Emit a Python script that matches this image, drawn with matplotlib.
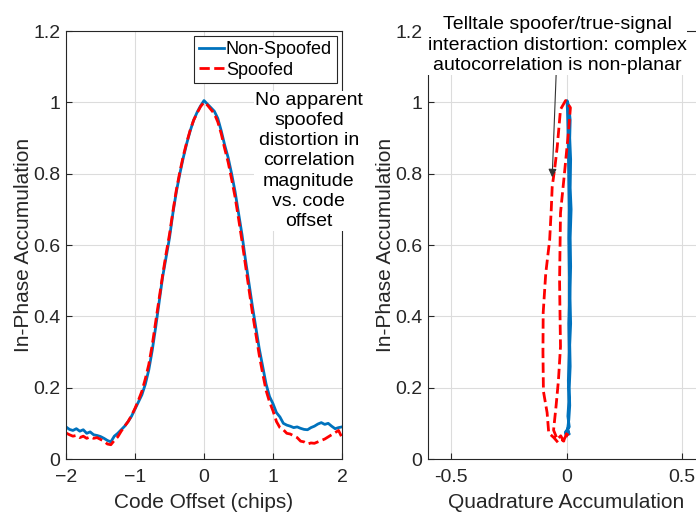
import matplotlib
matplotlib.use("Agg")
import matplotlib.pyplot as plt
import numpy as np

plt.rcParams['font.family'] = ['Liberation Sans', 'DejaVu Sans']

# left panel: correlation magnitude vs code offset
code_offset = np.round(np.arange(-2.0, 2.0001, 0.05), 2)
nonspoofed = [0.090, 0.083, 0.080, 0.085, 0.078, 0.082, 0.072, 0.076, 0.068, 0.066,
              0.063, 0.058, 0.052, 0.048, 0.064, 0.072, 0.082, 0.092, 0.105, 0.120,
              0.140, 0.160, 0.180, 0.210, 0.250, 0.305, 0.370, 0.440, 0.510, 0.565,
              0.620, 0.690, 0.750, 0.800, 0.845, 0.885, 0.920, 0.950, 0.972, 0.990,
              1.005, 0.995, 0.985, 0.975, 0.955, 0.920, 0.880, 0.845, 0.800, 0.750,
              0.690, 0.630, 0.560, 0.495, 0.430, 0.370, 0.310, 0.260, 0.210, 0.175,
              0.155, 0.130, 0.118, 0.100, 0.095, 0.092, 0.088, 0.090, 0.086, 0.083,
              0.082, 0.088, 0.092, 0.098, 0.102, 0.097, 0.100, 0.092, 0.085, 0.088,
              0.090]
spoofed = [0.073, 0.068, 0.064, 0.066, 0.060, 0.064, 0.058, 0.062, 0.058, 0.060,
           0.055, 0.050, 0.042, 0.040, 0.052, 0.062, 0.078, 0.092, 0.105, 0.122,
           0.142, 0.165, 0.190, 0.225, 0.265, 0.320, 0.385, 0.450, 0.515, 0.575,
           0.630, 0.695, 0.755, 0.805, 0.850, 0.888, 0.922, 0.950, 0.970, 0.988,
           1.000, 0.992, 0.980, 0.968, 0.945, 0.912, 0.870, 0.832, 0.785, 0.735,
           0.675, 0.612, 0.545, 0.478, 0.412, 0.352, 0.292, 0.240, 0.192, 0.160,
           0.135, 0.105, 0.088, 0.082, 0.072, 0.070, 0.065, 0.060, 0.050, 0.048,
           0.042, 0.045, 0.044, 0.048, 0.052, 0.056, 0.062, 0.068, 0.074, 0.080,
           0.060]

# right panel: complex correlation (quadrature vs in-phase)
blue_q = [0.000, 0.008, -0.005, 0.012, 0.006, 0.010, 0.008, 0.012, 0.010, 0.014,
          0.012, 0.010, 0.012, 0.010, 0.008, 0.006, 0.004, 0.002,
          0.010, 0.016, 0.014, 0.018, 0.016, 0.020, 0.016, 0.018, 0.015, 0.018,
          0.014, 0.016, 0.012, 0.014, 0.010, 0.004, 0.012, -0.004, 0.006]
blue_i = [0.065, 0.080, 0.075, 0.090, 0.120, 0.160, 0.220, 0.300, 0.380, 0.460,
          0.540, 0.620, 0.700, 0.780, 0.860, 0.930, 0.980, 1.005,
          0.990, 0.950, 0.900, 0.840, 0.760, 0.700, 0.620, 0.540, 0.460, 0.380,
          0.320, 0.260, 0.200, 0.150, 0.110, 0.080, 0.070, 0.070, 0.085]
red_q = [0.003, -0.010, -0.035, -0.055, -0.077, -0.084, -0.100, -0.102, -0.101,
         -0.090, -0.073, -0.066, -0.062, -0.050, -0.040, -0.026, -0.004,
         0.017, 0.009, -0.009, -0.026, -0.030, -0.028, -0.026, -0.035, -0.045,
         -0.056, -0.040, -0.025, -0.012, 0.000, 0.008]
red_i = [0.073, 0.055, 0.045, 0.060, 0.073, 0.130, 0.190, 0.300, 0.410,
         0.520, 0.614, 0.700, 0.763, 0.820, 0.876, 0.980, 1.005,
         0.985, 0.920, 0.800, 0.690, 0.500, 0.400, 0.315, 0.220, 0.150,
         0.081, 0.055, 0.065, 0.050, 0.070, 0.065]

blue = '#0072BD'
red = '#FF0000'
spine_col = '#262626'

fig = plt.figure(figsize=(6.96, 5.14), dpi=100)
ax1 = fig.add_axes([66 / 696, 55 / 514, 276 / 696, 428 / 514])
ax2 = fig.add_axes([428 / 696, 55 / 514, 277 / 696, 428 / 514])

for ax in (ax1, ax2):
    ax.grid(True, color='#dcdcdc', lw=0.8)
    ax.set_axisbelow(True)
    ax.tick_params(direction='in', labelsize=14, colors=spine_col, length=4)
    ax.tick_params(axis='x', pad=7)
    ax.tick_params(axis='y', pad=4)
    for s in ax.spines.values():
        s.set_color(spine_col)
        s.set_linewidth(0.8)
    ax.set_ylim(0, 1.2)
    ax.set_yticks([0, 0.2, 0.4, 0.6, 0.8, 1.0, 1.2])
    ax.set_yticklabels(['0', '0.2', '0.4', '0.6', '0.8', '1', '1.2'])
    ax.set_ylabel('In-Phase Accumulation', fontsize=15, color=spine_col, labelpad=0)

ax1.plot(code_offset, nonspoofed, color=blue, lw=2, label='Non-Spoofed')
ax1.plot(code_offset, spoofed, color=red, lw=2, ls='--', label='Spoofed')
ax1.set_xlim(-2, 2)
ax1.set_xticks([-2, -1, 0, 1, 2])
ax1.set_xlabel('Code Offset (chips)', fontsize=15, color=spine_col, labelpad=5)
leg = ax1.legend(loc='upper right', fontsize=13, fancybox=False, framealpha=1,
                 edgecolor=spine_col, handlelength=1.4, handletextpad=0.1,
                 borderpad=0.25, labelspacing=0.2, borderaxespad=0.3)
leg.get_frame().set_linewidth(0.8)
ax1.text(1.52, 1.03, 'No apparent\nspoofed\ndistortion in\ncorrelation\nmagnitude\nvs. code\noffset',
         ha='center', va='top', fontsize=14, linespacing=1.25,
         bbox=dict(facecolor='white', edgecolor='none', pad=0.5))

ax2.plot(blue_q, blue_i, color=blue, lw=2)
ax2.plot(red_q, red_i, color=red, lw=2, ls='--')
ax2.set_xlim(-0.6, 0.6)
ax2.set_xticks([-0.5, 0, 0.5])
ax2.set_xticklabels(['-0.5', '0', '0.5'])
ax2.set_xlabel('Quadrature Accumulation', fontsize=15, color=spine_col, labelpad=5)
ax2.annotate('Telltale spoofer/true-signal\ninteraction distortion: complex\nautocorrelation is non-planar',
             xy=(-0.062, 0.79), xytext=(-0.04, 1.08), ha='center', va='bottom',
             fontsize=14, linespacing=1.25, color='black',
             bbox=dict(facecolor='white', edgecolor='none', pad=0.5),
             arrowprops=dict(arrowstyle='-|>', color='#333333', lw=0.8,
                             mutation_scale=12, shrinkA=0, shrinkB=0))

fig.savefig('out.png', dpi=100)
